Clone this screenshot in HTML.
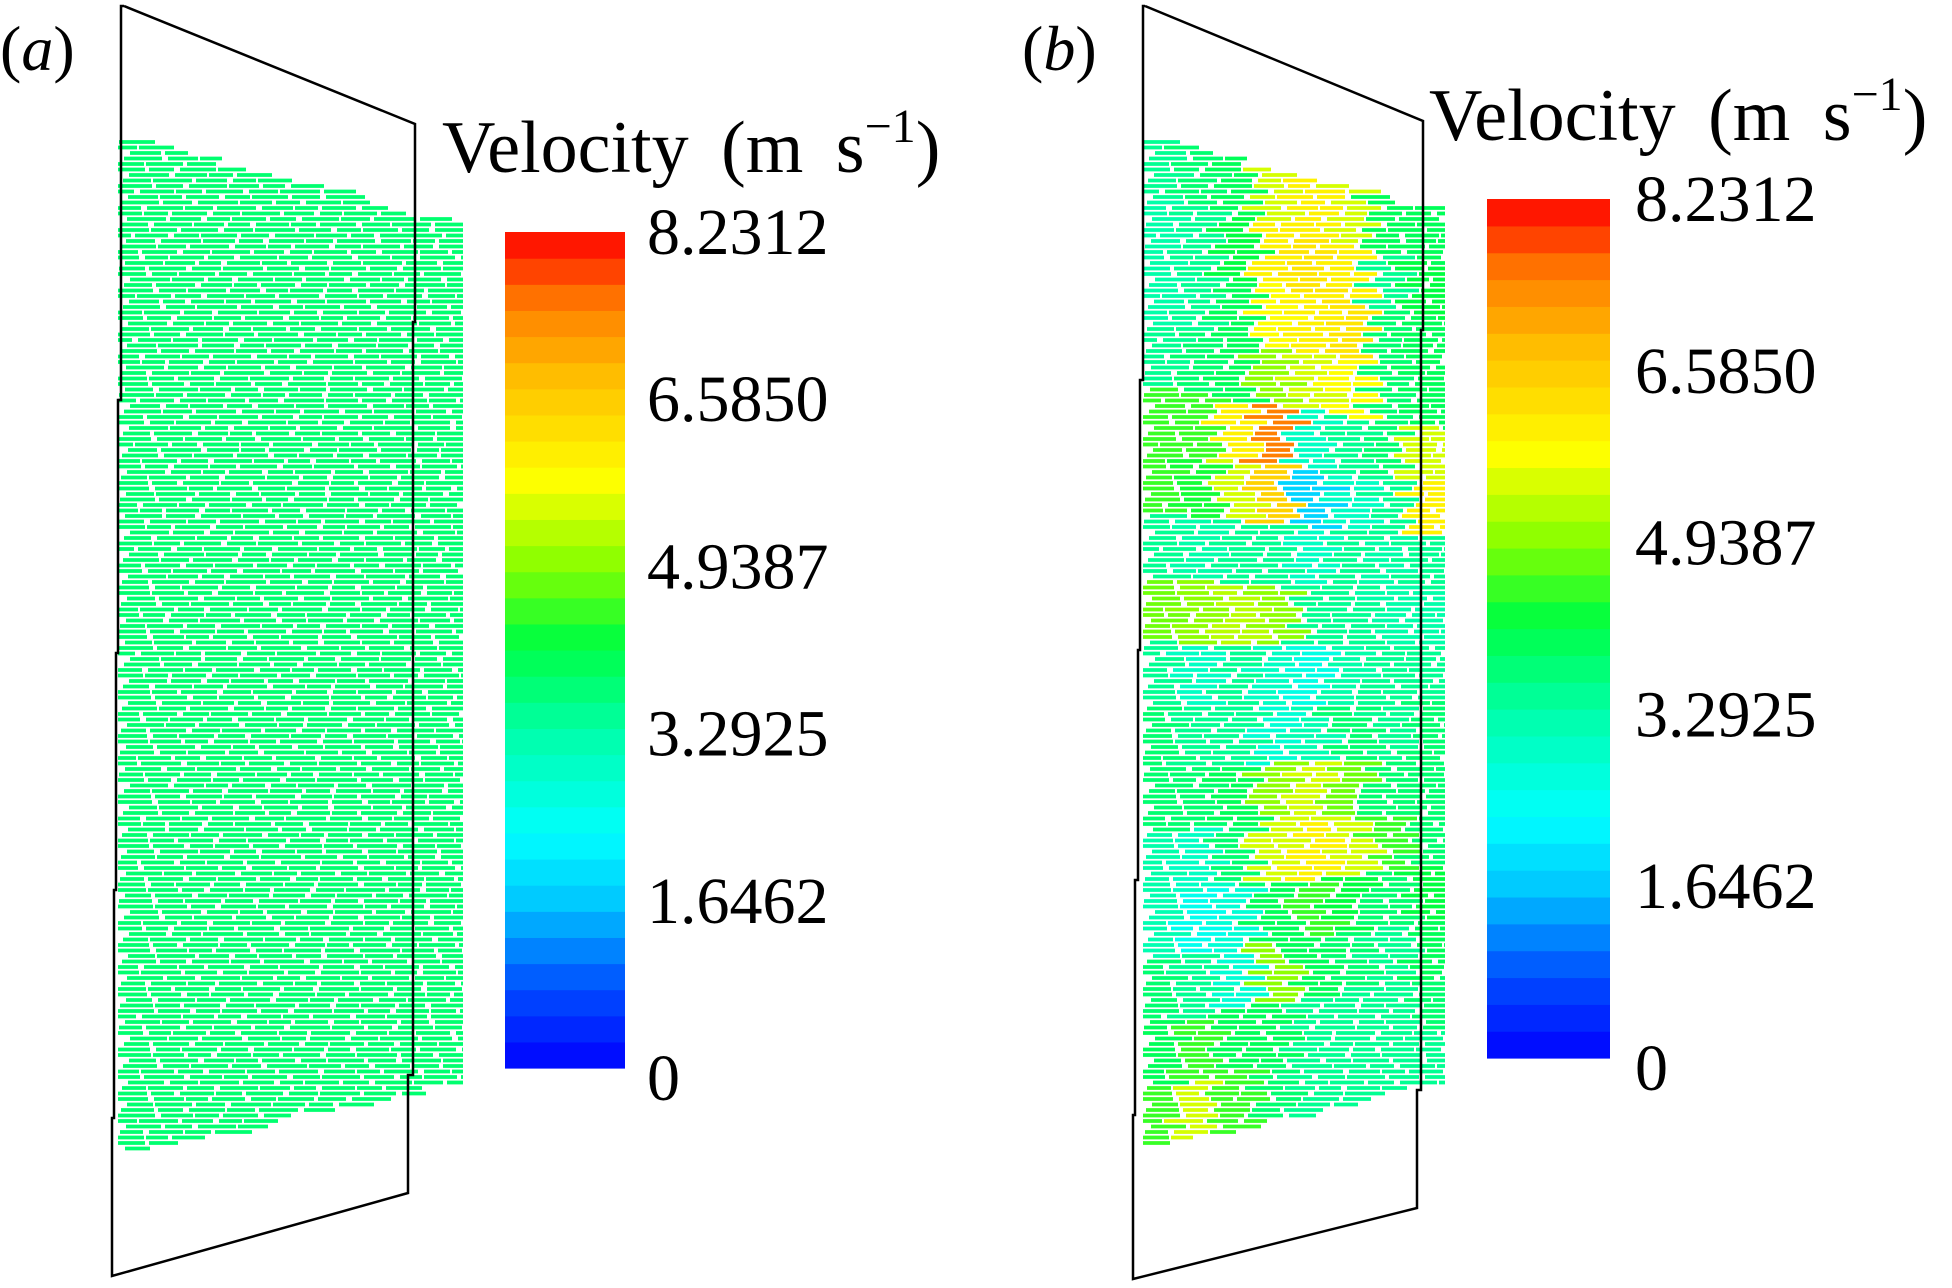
<!DOCTYPE html>
<html><head><meta charset="utf-8"><style>
html,body{margin:0;padding:0;background:#fff}
svg{display:block}
text{font-family:"Liberation Serif",serif;fill:#000}
</style></head><body>
<svg id="fig" width="1952" height="1288" viewBox="0 0 1952 1288" xmlns="http://www.w3.org/2000/svg">
<g id="fieldA"></g>
<g id="fieldB"></g>
<polyline fill="none" stroke="#000" stroke-width="2.5" points="124,6 415,124 415,322 413,322 413,1075 408,1075 408,1193 112,1276 112,1118 114,1118 114,890 116,890 116,653 118,653 118,400 121,400 121,6 124,6"/>
<polyline fill="none" stroke="#000" stroke-width="2.5" points="1145,6 1423,121 1423,330 1421,330 1421,1090 1417,1090 1417,1208 1133,1279 1133,1115 1135,1115 1135,880 1138,880 1138,650 1140,650 1140,380 1143,380 1143,6 1145,6"/>
<text x="0" y="70" font-size="64">(<tspan font-style="italic">a</tspan>)</text>
<text x="1022" y="70" font-size="64">(<tspan font-style="italic">b</tspan>)</text>
<text x="442" y="172" font-size="74" word-spacing="14">Velocity (m s<tspan dy="-30" font-size="48">−1</tspan><tspan dy="30">)</tspan></text>
<text x="1429" y="140" font-size="74" word-spacing="14">Velocity (m s<tspan dy="-30" font-size="48">−1</tspan><tspan dy="30">)</tspan></text>
<g id="cbA"></g>
<g id="cbB"></g>
</svg>
<script>
const tickLabels=["0","1.6462","3.2925","4.9387","6.5850","8.2312"];
const vMax=8.2312;
const nBands=32;
const speedA=[[3.8]];
const speedB=[
[3.5,3.8,4.0,5.5,6.0,5.5,4.0,4.0],
[3.3,3.5,4.2,6.0,6.2,6.0,3.5,4.2],
[3.3,3.5,4.0,5.8,6.0,6.2,3.8,4.0],
[3.5,3.8,4.0,5.0,5.5,5.8,3.8,4.0],
[4.5,4.5,6.0,7.5,3.0,3.5,3.8,5.5],
[4.5,4.3,5.5,6.5,1.8,3.0,3.5,6.0],
[3.5,3.3,3.5,3.5,3.0,3.5,3.3,3.5],
[4.8,5.0,5.3,5.0,3.5,3.5,3.3,3.3],
[3.5,3.0,3.5,3.0,2.6,3.3,3.5,3.5],
[3.8,3.5,3.5,2.8,3.2,3.8,3.5,3.8],
[3.8,3.8,4.0,5.0,5.5,4.8,3.8,3.8],
[3.3,3.0,3.8,5.5,6.0,5.5,4.5,3.8],
[3.2,2.5,2.8,4.0,4.5,4.2,3.8,4.2],
[3.8,3.5,2.8,5.0,4.0,3.8,3.5,4.0],
[4.0,4.5,4.0,4.0,3.5,3.5,3.5,3.8],
[4.5,5.5,4.5,3.8,3.5,3.5,3.5,3.5]];
const NS="http://www.w3.org/2000/svg";
const stops=[[0,[0,0,255]],[0.8,[0,80,255]],[1.64,[0,200,255]],[2.3,[0,255,255]],[3.3,[0,255,170]],[4.2,[0,255,64]],[4.9,[128,255,0]],[5.8,[255,255,0]],[6.8,[255,190,0]],[7.5,[255,128,0]],[8.2312,[255,0,0]]];
function color(v){
  v=Math.max(0,Math.min(vMax,v));
  for(let i=1;i<stops.length;i++){if(v<=stops[i][0]){const a=stops[i-1],b=stops[i];const t=(v-a[0])/(b[0]-a[0]);
    const c=a[1].map((x,k)=>Math.round(x+(b[1][k]-x)*t));return `rgb(${c})`;}}
  return "rgb(255,0,0)";
}
function colorbar(id,x,y0,y1,w,lx){
  const g=document.getElementById(id);const h=(y1-y0)/nBands;
  for(let i=0;i<nBands;i++){
    const r=document.createElementNS(NS,'rect');
    
    
    const v=(i+0.5)/nBands*vMax;
    r.setAttribute('x',x);r.setAttribute('y',y1-(i+1)*h);r.setAttribute('width',w);r.setAttribute('height',h+0.6);
    r.setAttribute('fill',color(v));g.appendChild(r);
  }
  tickLabels.forEach((t,i)=>{
    const tx=document.createElementNS(NS,'text');
    
    
    const yy=y1-(parseFloat(t)/vMax)*(y1-y0)+ (i==0?10:0);
    tx.setAttribute('x',lx);tx.setAttribute('y',yy+22);tx.setAttribute('font-size','66');
    tx.textContent=t;g.appendChild(tx);
  });
}
colorbar('cbA',505,232,1068,120,647);
colorbar('cbB',1487,199,1058,123,1635);
function field(id,grid,x0,x1,topL,topR,botL,botR){
  const g=document.getElementById(id);const rows=grid.length,cols=grid[0].length;
  const yMin=Math.min(topL,topR),yMax=Math.max(botL,botR);
  let ri=0;
  for(let y=yMin;y<yMax;y+=5.5,ri++){
    let x=x0+((ri*17)%23)-10;let k=0;
    while(x<x1){
      const len=22+((ri*7+k*11)%19);const xe=Math.min(x+len,x1);
      const xm=(x+xe)/2;const f=(xm-x0)/(x1-x0);
      const top=topL+(topR-topL)*f,bot=botL+(botR-botL)*f;
      if(y>=top&&y<=bot&&xe>x0){
        const c=Math.min(cols-1,Math.max(0,Math.floor(f*cols)));
        const r=Math.min(rows-1,Math.max(0,Math.floor((y-top)/(bot-top)*rows)));
        const l=document.createElementNS(NS,'line');
        
        
        l.setAttribute('x1',Math.max(x,x0));l.setAttribute('x2',xe);l.setAttribute('y1',y);l.setAttribute('y2',y);
        l.setAttribute('stroke',color(grid[r][c]));l.setAttribute('stroke-width','3.8');g.appendChild(l);
      }
      x=xe+2+((ri+k)%3)*2;k++;
    }
  }
}
field('fieldA',speedA,118,463,131,224,1157,1083);
field('fieldB',speedB,1143,1445,131,212,1152,1083);
</script>
</body></html>
